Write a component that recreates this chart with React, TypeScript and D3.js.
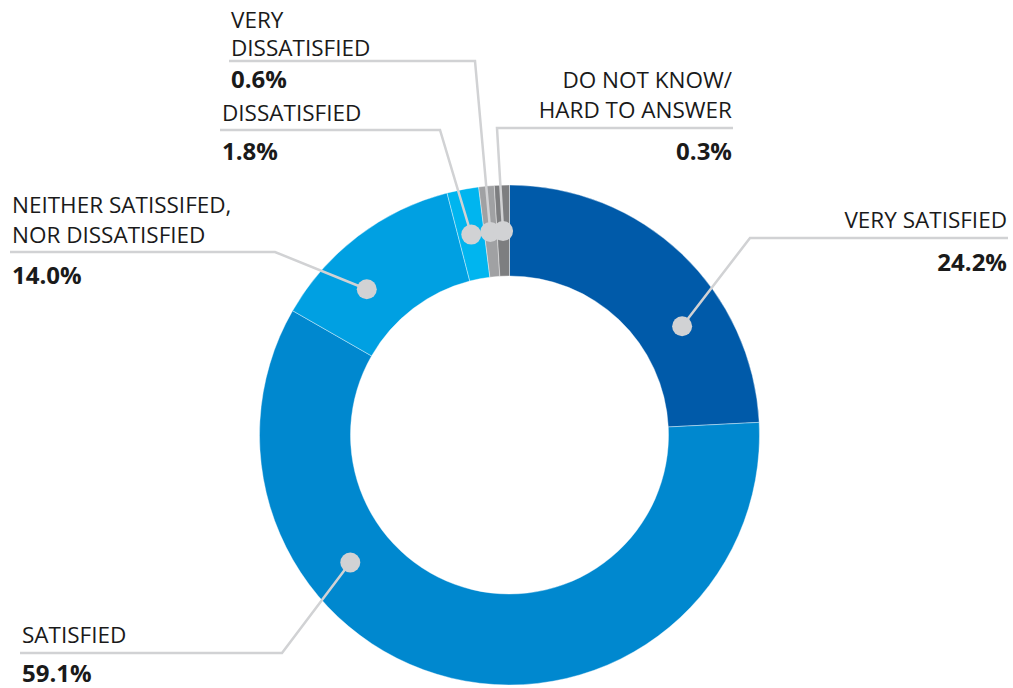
import React from "react";
import * as d3 from "d3";

const categories = [
  "VERY SATISFIED",
  "SATISFIED",
  "NEITHER SATISSIFED, NOR DISSATISFIED",
  "DISSATISFIED",
  "VERY DISSATISFIED",
  "DO NOT KNOW/ HARD TO ANSWER",
];
const values = [24.2, 59.1, 14.0, 1.8, 0.6, 0.3];
// slice shares as drawn in the picture (tiny slices are widened to stay visible)
const drawnShares = [24.2, 59.1, 12.7, 2.05, 1.0, 0.97];
const valueLabels = ["24.2%", "59.1%", "14.0%", "1.8%", "0.6%", "0.3%"];
const labelLines = [
  ["VERY SATISFIED"],
  ["SATISFIED"],
  ["NEITHER SATISSIFED,", "NOR DISSATISFIED"],
  ["DISSATISFIED"],
  ["VERY", "DISSATISFIED"],
  ["DO NOT KNOW/", "HARD TO ANSWER"],
];
const colors = ["#005aa9", "#0088cf", "#00a0e2", "#00b5ef", "#a0a1a3", "#7d7e80"];

// layout (not data)
const W = 1013;
const H = 688;
const CX = 509.5;
const CY = 435;
const R_OUT = 250;
const R_IN = 159;
const DOT_R = 204;
const callouts = [
  { dotDeg: 57.8, elbow: [750, 238], endX: 1008, side: "right", nameY: [228], valY: 271 },
  { dotDeg: 231.3, elbow: [282, 653], endX: 20, side: "left", nameY: [643], valY: 682 },
  { dotDeg: 315.6, elbow: [275, 252], endX: 10, side: "left", nameY: [213, 243], valY: 284 },
  { dotDeg: 349.2, elbow: [440, 130], endX: 220, side: "left", nameY: [121], valY: 160 },
  { dotDeg: 354.6, elbow: [475, 61], endX: 229, side: "left", nameY: [28, 55.5], valY: 88 },
  { dotDeg: 358.2, elbow: [497, 128], endX: 733, side: "right", nameY: [88, 118], valY: 160 },
];

const FONT = "'Open Sans', 'Noto Sans', sans-serif";

export default function App() {
  const pie = d3
    .pie<number>()
    .sort(null)
    .value((d) => d)
    .startAngle(0)
    .endAngle(2 * Math.PI);
  const arcs = pie(drawnShares);
  const arc = d3.arc<d3.PieArcDatum<number>>().innerRadius(R_IN).outerRadius(R_OUT);

  return (
    <svg
      width={W}
      height={H}
      style={{ position: "absolute", left: 0, top: 0, background: "#fff" }}
      fontFamily={FONT}
    >
      <g transform={`translate(${CX},${CY})`}>
        {arcs.map((a, i) => (
          <path key={i} d={arc(a) || ""} fill={colors[i]} stroke="#ffffff" strokeWidth={0.4}>
            <title>{`${categories[i]}: ${values[i]}%`}</title>
          </path>
        ))}
      </g>
      {callouts.map((c, i) => {
        const ang = (c.dotDeg * Math.PI) / 180;
        const dx = CX + DOT_R * Math.sin(ang);
        const dy = CY - DOT_R * Math.cos(ang);
        const [ex, ey] = c.elbow;
        const anchor = c.side === "right" ? "end" : "start";
        const tx = c.side === "right" ? c.endX - 1 : c.endX + 2;
        return (
          <g key={i}>
            <polyline
              points={`${dx},${dy} ${ex},${ey} ${c.endX},${ey}`}
              fill="none"
              stroke="#d1d2d4"
              strokeWidth={2.5}
            />
            <circle cx={dx} cy={dy} r={10} fill="#d1d2d4" />
            {labelLines[i].map((t, j) => (
              <text
                key={j}
                x={tx}
                y={c.nameY[j]}
                textAnchor={anchor}
                fontSize={22.5}
                fill="#1a1a1a"
              >
                {t}
              </text>
            ))}
            <text
              x={tx}
              y={c.valY}
              textAnchor={anchor}
              fontSize={24}
              fontWeight={700}
              fill="#1a1a1a"
            >
              {valueLabels[i]}
            </text>
          </g>
        );
      })}
    </svg>
  );
}
